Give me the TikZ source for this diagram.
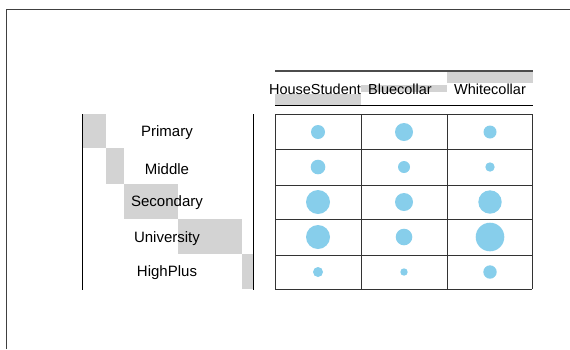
\documentclass[tikz,border=0pt]{standalone}
\usepackage{fontspec}
\setmainfont{Liberation Sans}
\definecolor{skyblue}{RGB}{135,206,235}
\definecolor{lgray}{RGB}{211,211,211}
\begin{document}
\begin{tikzpicture}[x=1pt,y=-1pt,
	blob/.style={circle,fill=skyblue,inner sep=0pt},
	lab/.style={font=\fontsize{15}{16}\selectfont,inner sep=0pt},
	headlab/.style={font=\fontsize{14.5}{16}\selectfont,inner sep=0pt}]
	\useasboundingbox (0,0) rectangle (570,349);
	% frame
	\draw[black!75,line width=0.9pt] (6,349) -- (6,9) -- (570,9);

	% row labels with stair blocks
	\foreach \xa/\xb/\ya/\yb in {82/106/114/148,106/124/148/184,124/178/184/219,178/242/219/254,242/253/254/289}
		\fill[lgray] (\xa,\ya) rectangle (\xb,\yb);
	\draw[line width=0.8pt] (82,114) -- (82,290) (253,114) -- (253,290);
	\foreach \name/\y [count=\i] in {Primary/133,Middle/169,Secondary/203,University/239,HighPlus/273}
		\node[lab] (r\i) at (167,\y) {\name};

	% column labels
	\foreach \xa/\xb/\ya/\yb in {275/361/94/105,361/447/85/92,447/533/72/83}
		\fill[lgray] (\xa,\ya) rectangle (\xb,\yb);
	\draw[black!70,line width=1.1pt] (275,71) -- (533,71);
	\draw[line width=0.8pt] (275,105) -- (533,105);
	\foreach \name/\x [count=\j] in {HouseStudent/315,Bluecollar/400,Whitecollar/490}
		\node[headlab] (k\j) at (\x,89.5) {\name};

	% table
	\foreach \x in {275,361,447,532}
		\draw[black!80,line width=0.8pt] (\x,114) -- (\x,289);
	\foreach \y in {114,149,185,219,255,289}
		\draw[black!80,line width=0.8pt] (275,\y) -- (532,\y);
	\foreach \y/\ra/\rb/\rc [count=\i] in {132/7/9/6.5,167/7.3/6/4.7,202/12/9/11.7,237/12/8.3/14.3,272/5/3.7/6.7}
		{\node[blob,minimum size=2*\ra] (c\i1) at (318,\y) {};
		 \node[blob,minimum size=2*\rb] (c\i2) at (404,\y) {};
		 \node[blob,minimum size=2*\rc] (c\i3) at (490,\y) {};}
\end{tikzpicture}
\end{document}
